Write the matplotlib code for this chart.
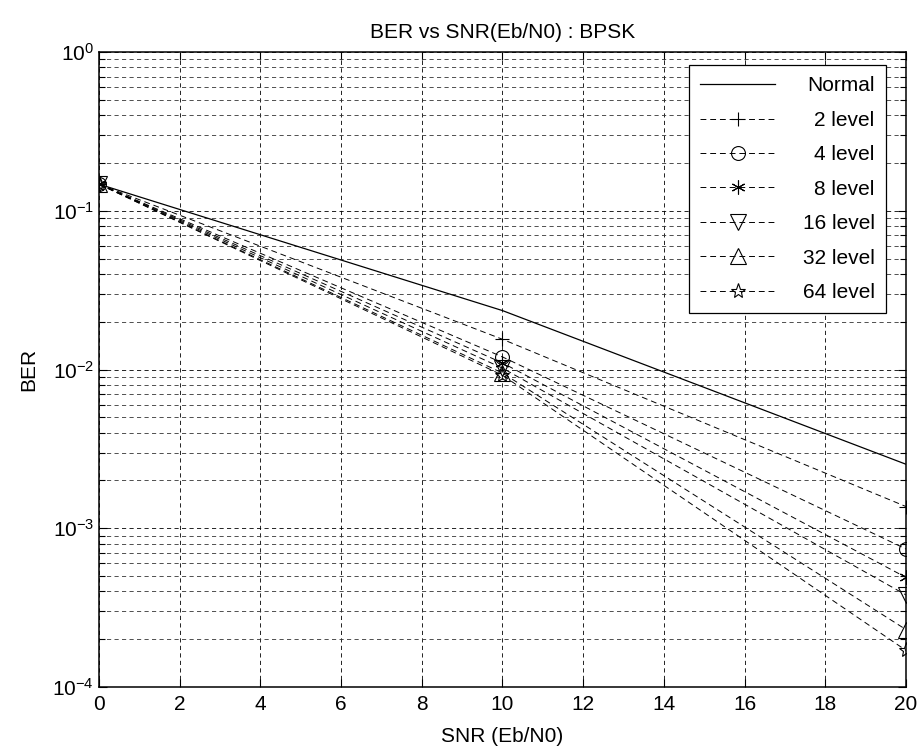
import matplotlib
matplotlib.use("Agg")
import matplotlib.pyplot as plt
from matplotlib.ticker import LogLocator, FixedLocator
import numpy as np

plt.rcParams['font.family'] = ['Liberation Sans', 'DejaVu Sans']
plt.rcParams['mathtext.fontset'] = 'custom'
plt.rcParams['mathtext.rm'] = 'Liberation Sans'
plt.rcParams['mathtext.it'] = 'Liberation Sans:italic'
plt.rcParams['mathtext.bf'] = 'Liberation Sans:bold'
plt.rcParams['axes.unicode_minus'] = False

# ---- data ----
snr = [0, 10, 20]
ber_normal = [0.147, 0.0235, 0.00253]
ber_2 = [0.147, 0.0155, 0.00137]
ber_4 = [0.147, 0.0120, 0.00074]
ber_8 = [0.147, 0.0110, 0.00049]
ber_16 = [0.147, 0.0102, 0.00038]
ber_32 = [0.147, 0.0095, 0.00023]
ber_64 = [0.147, 0.0092, 0.00017]

labels = ["Normal", "2 level", "4 level", "8 level", "16 level", "32 level", "64 level"]
x_ticks = [0, 2, 4, 6, 8, 10, 12, 14, 16, 18, 20]

fig = plt.figure(figsize=(9.2, 7.5), dpi=100)
ax = fig.add_axes([99/920, 1-687/750, (906-99)/920, (687-52)/750])

dash = (0, (6, 4))
ax.plot(snr, ber_normal, color='black', lw=0.9, ls='-', label=labels[0])
ax.plot(snr, ber_2, color='black', lw=0.7, ls=dash, marker='+', ms=10, mew=0.8, label=labels[1])
ax.plot(snr, ber_4, color='black', lw=0.7, ls=dash, marker='o', ms=10, mfc='none', mew=0.8, label=labels[2])
ax.plot(snr, ber_8, color='black', lw=0.7, ls=dash, marker=(6, 2, 0), ms=10, mew=0.8, label=labels[3])
ax.plot(snr, ber_16, color='black', lw=0.7, ls=dash, marker='v', ms=11, mfc='none', mew=0.8, label=labels[4])
ax.plot(snr, ber_32, color='black', lw=0.7, ls=dash, marker='^', ms=11, mfc='none', mew=0.8, label=labels[5])
ax.plot(snr, ber_64, color='black', lw=0.7, ls=dash, marker='*', ms=11, mfc='none', mew=0.8, label=labels[6])

ax.set_yscale('log')
ax.set_xlim(0, 20)
ax.set_ylim(1e-4, 1)
ax.xaxis.set_major_locator(FixedLocator(x_ticks))
ax.yaxis.set_major_locator(LogLocator(base=10, numticks=10))
ax.yaxis.set_minor_locator(LogLocator(base=10, subs=np.arange(2, 10), numticks=20))

ax.grid(True, which='major', color='black', ls=(0, (5, 4)), lw=0.6)
ax.grid(True, which='minor', axis='y', color='#333333', ls=(0, (5, 4)), lw=0.6)
ax.set_axisbelow(True)

ax.tick_params(which='both', direction='in', top=True, right=True, labelsize=15, width=0.8)
ax.tick_params(which='major', length=6)
ax.tick_params(which='minor', length=4)
ax.tick_params(axis='x', pad=6)
for s in ax.spines.values():
    s.set_linewidth(1.1)

ax.set_title("BER vs SNR(Eb/N0) : BPSK", fontsize=15, pad=10)
ax.set_xlabel("SNR (Eb/N0)", fontsize=15, labelpad=9)
ax.set_ylabel("BER", fontsize=15, labelpad=10)

leg = ax.legend(loc='upper right', bbox_to_anchor=((886-99)/807, 1 - (65-52)/635),
                fontsize=15, frameon=True, fancybox=False, edgecolor='black',
                framealpha=1, handlelength=3.6, labelspacing=0.74, borderaxespad=0,
                handletextpad=1.3, borderpad=0.55)
leg.get_frame().set_linewidth(0.9)

fig.canvas.draw()
renderer = fig.canvas.get_renderer()
widths = [t.get_window_extent(renderer).width for t in leg.get_texts()]
wmax = max(widths)
for t, w in zip(leg.get_texts(), widths):
    t.set_position((wmax - w, 0))

fig.savefig("out.png", dpi=100)
